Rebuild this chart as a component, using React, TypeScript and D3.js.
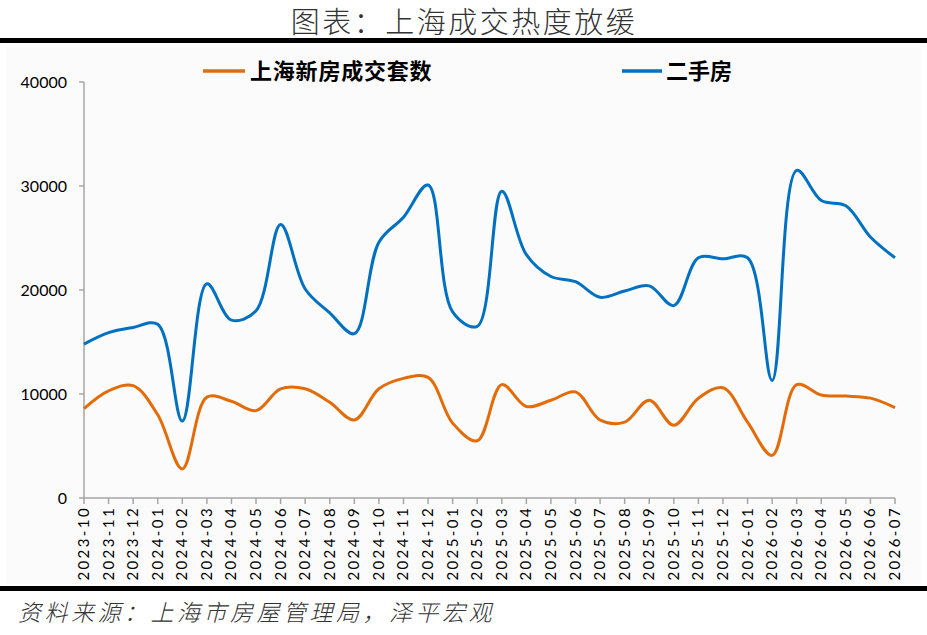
import React from 'react';
import { scaleLinear, scalePoint, line, curveCatmullRom } from 'd3';

const months = [
  '2023-10', '2023-11', '2023-12', '2024-01', '2024-02', '2024-03', '2024-04', '2024-05',
  '2024-06', '2024-07', '2024-08', '2024-09', '2024-10', '2024-11', '2024-12', '2025-01',
  '2025-02', '2025-03', '2025-04', '2025-05', '2025-06', '2025-07', '2025-08', '2025-09',
  '2025-10', '2025-11', '2025-12', '2026-01', '2026-02', '2026-03', '2026-04', '2026-05',
  '2026-06', '2026-07',
];

// 上海新房成交套数
const newHomes = [
  8600, 10300, 10800, 8000, 2800, 9700, 9300, 8400,
  10500, 10500, 9200, 7500, 10500, 11500, 11600, 7200,
  5500, 10900, 8800, 9400, 10200, 7500, 7300, 9400,
  7000, 9600, 10600, 7300, 4100, 10900, 9900, 9800,
  9600, 8700,
];

// 二手房
const resale = [
  14800, 15900, 16400, 16700, 7400, 20600, 17100, 18000,
  26300, 20100, 17800, 15800, 24600, 27000, 30100, 17900,
  16500, 29500, 23400, 21300, 20800, 19300, 19900, 20400,
  18500, 23100, 23000, 23100, 11300, 31500, 28600, 28100,
  25100, 23100,
];

const yTicks = [0, 10000, 20000, 30000, 40000];

const W = 927;
const H = 635;
const left = 84;
const right = 895;
const top = 82;
const bottom = 498;

const ORANGE = '#E36C0A';
const BLUE = '#0070C0';

export default function App() {
  const x = scalePoint<string>().domain(months).range([left, right]);
  const y = scaleLinear().domain([0, 40000]).range([bottom, top]);

  const mk = (vals: number[]) =>
    line<number>()
      .x((_, i) => x(months[i])!)
      .y(d => y(d))
      .curve(curveCatmullRom.alpha(0.5))(vals) || '';

  const tickFont = 'Lato, "Open Sans", sans-serif';
  const cjk = '"Noto Sans CJK SC", sans-serif';

  return (
    <svg
      width={W}
      height={H}
      style={{ position: 'absolute', left: 0, top: 0, background: '#fff' }}
    >
      <rect x={6} y={46} width={915} height={538} fill="#fbfbfb" />
      <text
        x={464}
        y={33}
        textAnchor="middle"
        fontFamily={cjk}
        fontWeight={300}
        fontSize={29}
        letterSpacing={2.5}
        fill="#333"
      >
        图表：上海成交热度放缓
      </text>
      <rect x={0} y={38} width={W} height={5} fill="#000" />
      <rect x={0} y={586} width={W} height={5} fill="#000" />
      <text
        x={18}
        y={621}
        fontFamily={cjk}
        fontWeight={300}
        fontSize={23}
        letterSpacing={3.5}
        fontStyle="italic"
        fill="#333"
      >
        资料来源：上海市房屋管理局，泽平宏观
      </text>

      {/* y axis */}
      <line x1={left} x2={left} y1={top} y2={bottom} stroke="#a6a6a6" strokeWidth={1.5} />
      {yTicks.map(t => (
        <g key={t}>
          <line x1={left - 5} x2={left} y1={y(t)} y2={y(t)} stroke="#a6a6a6" strokeWidth={1.5} />
          <text
            x={left - 17}
            y={y(t) + 6}
            textAnchor="end"
            fontFamily={tickFont}
            fontSize={16}
            fill="#000"
          >
            {t}
          </text>
        </g>
      ))}

      {/* x axis */}
      <line x1={left} x2={right} y1={bottom} y2={bottom} stroke="#a6a6a6" strokeWidth={1.5} />
      {months.map(m => (
        <g key={m}>
          <line x1={x(m)!} x2={x(m)!} y1={bottom} y2={bottom + 6} stroke="#a6a6a6" strokeWidth={1.5} />
          <text
            transform={`translate(${x(m)! + 5},${bottom + 8}) rotate(-90)`}
            textAnchor="end"
            fontFamily={tickFont}
            fontSize={15}
            letterSpacing={2.4}
            fill="#000"
          >
            {m}
          </text>
        </g>
      ))}

      <path d={mk(newHomes)} fill="none" stroke={ORANGE} strokeWidth={3} />
      <path d={mk(resale)} fill="none" stroke={BLUE} strokeWidth={3} />

      {/* legend */}
      <line x1={203} x2={245} y1={71} y2={71} stroke={ORANGE} strokeWidth={3.5} />
      <text x={250} y={79} fontFamily={cjk} fontWeight={700} fontSize={22} letterSpacing={0.8} fill="#000">
        上海新房成交套数
      </text>
      <line x1={622} x2={662} y1={71} y2={71} stroke={BLUE} strokeWidth={3.5} />
      <text x={666} y={79} fontFamily={cjk} fontWeight={700} fontSize={22} fill="#000">
        二手房
      </text>
    </svg>
  );
}
